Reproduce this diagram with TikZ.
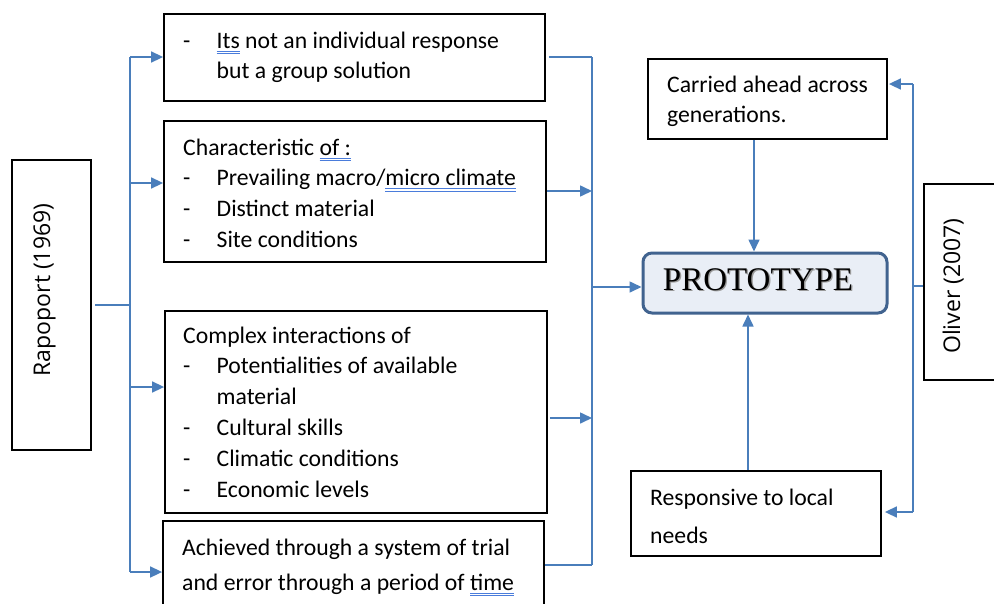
\documentclass[tikz,border=0pt]{standalone}
\usepackage{fontspec}
\setmainfont{Carlito}
\newfontfamily\headface{Liberation Serif}
\newfontfamily\sideface{Open Sans}
\usetikzlibrary{arrows.meta}

\definecolor{link}{HTML}{4A7EBB}
\definecolor{protofill}{HTML}{E9EEF6}
\definecolor{protoedge}{HTML}{41638F}
\definecolor{gramblue}{HTML}{4A7CDB}

% double blue underline under a word
\newlength\gramwd
\newcommand\gram[1]{\settowidth\gramwd{#1}\rlap{#1}%
  \smash{\textcolor{gramblue}{\rule[-3.4pt]{\gramwd}{0.9pt}}}\hspace{-\gramwd}%
  \smash{\textcolor{gramblue}{\rule[-6pt]{\gramwd}{0.9pt}}}}
% hanging dash of a list entry
\newcommand\dashitem{\makebox[33.5pt][l]{-}}
\newcommand\hang{\hspace*{33.5pt}}

% text nodes are anchored at the baseline of their last line
\tikzset{
  box/.style={draw=black, line width=1.8pt, fill=white, inner sep=0pt},
  txt/.style={anchor=base west, align=left, inner sep=0pt,
    font=\fontsize{23.7}{30.8}\selectfont},
  side/.style={anchor=base, rotate=90, inner sep=0pt,
    font=\sideface\fontsize{23}{28}\selectfont},
  link/.style={draw=link, line width=1.6pt},
  arr/.style={link, -{Triangle[length=12pt,width=11pt]}},
}

\begin{document}
\begin{tikzpicture}[x=1pt,y=-1pt]
\useasboundingbox (0,0) rectangle (994,603);
\clip (0,0) rectangle (994,603);

% boxes
\node[box, minimum width=79pt, minimum height=290pt] (rap) at (51.5,305) {};
\node[box, minimum width=381pt, minimum height=87pt] (b1) at (354.5,57.5) {};
\node[box, minimum width=382pt, minimum height=141pt] (b2) at (355,191.5) {};
\node[box, minimum width=382pt, minimum height=202pt] (b3) at (356,412) {};
\node[box, minimum width=381pt, minimum height=118pt] (b4) at (353.5,580) {};
\node[box, minimum width=239pt, minimum height=80pt] (carried) at (767.5,99) {};
\node[box, minimum width=250pt, minimum height=85pt] (resp) at (756,513.5) {};
\node[box, minimum width=126pt, minimum height=196pt] (oliver) at (987,282) {};
\node[draw=protoedge, line width=3pt, fill=protofill, rounded corners=9pt,
  minimum width=244pt, minimum height=60pt] (proto) at (765,283) {};

% texts
\node[side] (raptxt) at (50,290) {Rapoport (1969)};
\node[side] (olitxt) at (960,286) {Oliver (2007)};
\node[txt] (t1) at (183,78.8) {\dashitem\gram{Its} not an individual response\\\hang but a group solution};
\node[txt] (t2) at (183,247.4) {Characteristic \gram{of :}\\\dashitem Prevailing macro/\gram{micro climate}\\\dashitem Distinct material\\\dashitem Site conditions};
\node[txt] (t3) at (183,497) {Complex interactions of\\\dashitem Potentialities of available\\\hang material\\\dashitem Cultural skills\\\dashitem Climatic conditions\\\dashitem Economic levels};
\node[txt, font=\fontsize{23.7}{35}\selectfont] (t4) at (182,590) {Achieved through a system of trial\\and error through a period of \gram{time}};
\node[txt, font=\fontsize{23.7}{30.5}\selectfont] (tc) at (667,122.5) {Carried ahead across\\generations.};
\node[txt, font=\fontsize{23.7}{38}\selectfont] (tr) at (650,543) {Responsive to local\\needs};
\node[anchor=base, inner sep=0pt, text=black!40, font=\headface\fontsize{33}{36}\selectfont] (protoshadow) at (759.3,291.3) {PROTOTYPE};
\node[anchor=base, inner sep=0pt, font=\headface\fontsize{33}{36}\selectfont] (prototxt) at (758,290) {PROTOTYPE};

% left distribution bus
\coordinate (rapout) at (95,305);
\coordinate (lj) at (130,305);
\coordinate (l1) at (130,57);
\coordinate (l2) at (130,183);
\coordinate (l3) at (130,387);
\coordinate (l4) at (130,572);
\draw[link] (rapout) -- (lj);
\draw[link] (l1) -- (l4);
\draw[arr] (l1) -- (l1 -| b1.west);
\draw[arr] (l2) -- (l2 -| b2.west);
\draw[arr] (l3) -- (l3 -| b3.west);
\draw[arr] (l4) -- (l4 -| b4.west);

% right collecting bus
\coordinate (r1) at (592,57);
\coordinate (r2) at (592,191);
\coordinate (r3) at (592,418);
\coordinate (r4) at (592,565);
\coordinate (rp) at (592,287);
\draw[link] (r1) -- (r4);
\draw[link] ([xshift=3pt]r1 -| b1.east) -- (r1);
\draw[arr] (r2 -| b2.east) -- (r2);
\draw[arr] ([xshift=2pt]r3 -| b3.east) -- (r3);
\draw[link] (r4 -| b4.east) -- (r4);
\draw[arr] (rp) -- (rp -| proto.west);

% vertical feeds into the prototype
\coordinate (cx) at (754,0);
\coordinate (rx) at (748,0);
\draw[arr] (carried.south -| cx) -- (proto.north -| cx);
\draw[arr] (resp.north -| rx) -- (proto.south -| rx);

% Oliver bus
\coordinate (o1) at (913,84);
\coordinate (oj) at (913,286);
\coordinate (o2) at (913,512);
\draw[link] (o1) -- (o2);
\draw[link] (oj -| oliver.west) -- (oj);
\draw[arr] (o1) -- ([xshift=1pt]o1 -| carried.east);
\draw[arr] (o2) -- ([xshift=3pt]o2 -| resp.east);
\end{tikzpicture}
\end{document}
